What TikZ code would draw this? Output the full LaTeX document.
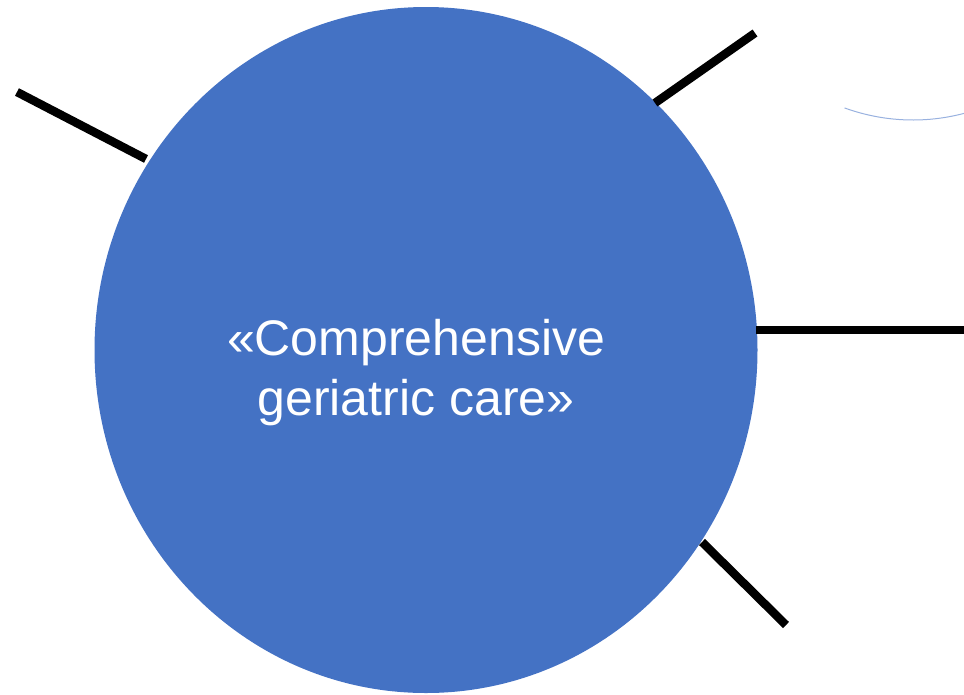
\documentclass[tikz,border=0pt]{standalone}
\usepackage{fontspec}
\setmainfont{Liberation Sans}
\usetikzlibrary{shapes.geometric}
\definecolor{hubblue}{HTML}{4472C4}
\tikzset{
  hubstyle/.style={ellipse, fill=hubblue, draw=none, minimum width=663pt, minimum height=686pt, inner sep=0pt},
  hubtext/.style={text=white, align=center, inner sep=0pt, font=\fontsize{50pt}{60pt}\selectfont},
  spoke/.style={draw=black, line width=8.5pt, line cap=butt},
  faintarc/.style={draw=hubblue!55, line width=1pt}
}
\begin{document}
\begin{tikzpicture}[x=1pt,y=-1pt]
\useasboundingbox (0,0) rectangle (964,694);
\node[hubstyle] (hub) at (426,350) {};
\node[hubtext] (label) at (416,373) {«Comprehensive\\geriatric care»};
\coordinate (s1a) at (146,159); \coordinate (s1b) at (17,92);
\coordinate (s2a) at (655,103); \coordinate (s2b) at (755,33);
\coordinate (s3a) at (756,330); \coordinate (s3b) at (964,330);
\coordinate (s4a) at (702,542); \coordinate (s4b) at (786,625);
\draw[spoke] (s1a) -- (s1b);
\draw[spoke] (s2a) -- (s2b);
\draw[spoke] (s3a) -- (s3b);
\draw[spoke] (s4a) -- (s4b);
\coordinate (arcc) at (913,-80);
\draw[faintarc] (arcc) ++(110:200) arc[start angle=110, end angle=72, radius=200];
\end{tikzpicture}
\end{document}
